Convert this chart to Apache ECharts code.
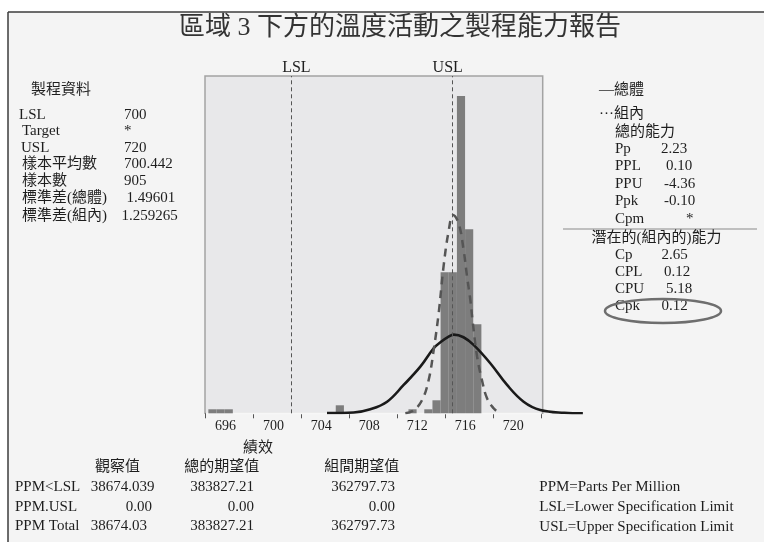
<!DOCTYPE html>
<html>
<head>
<meta charset="utf-8">
<script src="https://cdn.jsdelivr.net/npm/echarts@6/dist/echarts.min.js"></script>
<style>
  html, body { margin: 0; padding: 0; background: #ffffff; }
  #chart { width: 764px; height: 542px; }
</style>
</head>
<body>
<div id="chart"></div>
<script>
// ---------------- data ----------------
// histogram bins: lower edge of each bin and its frequency
const binStarts = [694.58, 695.26, 695.94, 705.20, 711.26, 712.58, 713.26, 713.94, 714.62, 715.30, 715.98, 716.66];
const binCounts = [4, 4, 4, 8, 4, 4, 13, 141, 141, 317, 184, 89];
const binWidth = 0.68;

// fitted density, overall (solid)
const overallCurveX = [704.47, 706.69, 708.08, 709.48, 710.86, 712.25, 713.36, 713.92, 714.61, 715.03, 715.85, 716.69, 718.08, 719.48, 720.86, 722.25, 724.25, 725.80];
const overallCurveY = [0.3, 0.8, 4, 11.6, 28.3, 46.6, 65, 71, 76.6, 78.6, 76, 68.3, 50, 28.3, 11.6, 3.3, 0.5, 0];

// fitted density, within (dashed)
const withinCurveX = [711.00, 711.69, 712.39, 712.94, 713.36, 713.78, 714.19, 714.61, 714.98, 715.44, 715.86, 716.14, 716.42, 716.61, 716.98, 717.39, 717.81, 718.36, 718.78];
const withinCurveY = [0, 3, 13, 33, 63, 100, 147, 182, 198, 190, 163, 137, 113, 92, 57, 33, 15, 5, 0.6];

// specification reference lines
const specNames = ['LSL', 'USL'];
const specPositions = [701.5, 714.95];

// x axis ticks and labels
const axisTickValues = [694.3, 698.3, 702.3, 706.3, 710.3, 714.3, 718.3, 722.3];
const axisLabelValues = [696, 700, 704, 708, 712, 716, 720];

// text panels
const titleText = '區域 3 下方的溫度活動之製程能力報告';
const axisTitle = '績效';
const processHeading = '製程資料';
const processLabels = ['LSL', 'Target', 'USL', '樣本平均數', '樣本數', '標準差(總體)', '標準差(組內)'];
const processValues = ['700', '*', '720', '700.442', '905', '1.49601', '1.259265'];
const legendItems = ['—總體', '···組內'];
const overallHeading = '總的能力';
const overallLabels = ['Pp', 'PPL', 'PPU', 'Ppk', 'Cpm'];
const overallValues = ['2.23', '0.10', '-4.36', '-0.10', '*'];
const withinHeading = '潛在的(組內的)能力';
const withinLabels = ['Cp', 'CPL', 'CPU', 'Cpk'];
const withinValues = ['2.65', '0.12', '5.18', '0.12'];
const ppmHeaders = ['觀察值', '總的期望值', '組間期望值'];
const ppmRows = ['PPM<LSL', 'PPM.USL', 'PPM Total'];
const ppmObserved = ['38674.039', '0.00', '38674.03'];
const ppmExpOverall = ['383827.21', '0.00', '383827.21'];
const ppmExpWithin = ['362797.73', '0.00', '362797.73'];
const footnotes = ['PPM=Parts Per Million', 'LSL=Lower Specification Limit', 'USL=Upper Specification Limit'];

// ---------------- drawing ----------------
const FONT = "'Liberation Serif', 'Noto Sans CJK TC', serif";
const INK = '#1e1e1e';

function txt(x, y, text, align, size, color) {
  return {
    type: 'text', x: x, y: y, silent: true, z: 10,
    style: {
      text: text,
      font: (size || 15) + 'px ' + FONT,
      fill: color || INK,
      align: align || 'left',
      verticalAlign: 'middle'
    }
  };
}

// plot frame (the cartesian grid runs a little past it so the fitted curve can overhang)
const PLOT = { left: 205, top: 76, width: 337.7, height: 337.3 };

const graphics = [];
// white margin outside the report frame
graphics.push({ type: 'rect', silent: true, z: 0, shape: { x: 0, y: 0, width: 764, height: 12 }, style: { fill: '#ffffff' } });
graphics.push({ type: 'rect', silent: true, z: 0, shape: { x: 0, y: 0, width: 8, height: 542 }, style: { fill: '#ffffff' } });
graphics.push({ type: 'line', silent: true, z: 1, shape: { x1: 8, y1: 12, x2: 764, y2: 12 }, style: { stroke: '#3c3c3c', lineWidth: 1.5 } });
graphics.push({ type: 'line', silent: true, z: 1, shape: { x1: 8, y1: 12, x2: 8, y2: 542 }, style: { stroke: '#3c3c3c', lineWidth: 1.5 } });

// plot background and border
graphics.push({
  type: 'rect', silent: true, z: 0,
  shape: { x: PLOT.left, y: PLOT.top, width: PLOT.width, height: PLOT.height },
  style: { fill: '#e8e8ea', stroke: '#a3a3a3', lineWidth: 1.5 }
});
graphics.push({
  type: 'line', silent: true, z: 1,
  shape: { x1: PLOT.left + 1, y1: PLOT.top + PLOT.height, x2: PLOT.left + PLOT.width - 1, y2: PLOT.top + PLOT.height },
  style: { stroke: '#f7f7f7', lineWidth: 2 }
});

// title
graphics.push(txt(400, 28.5, titleText, 'center', 26, '#333'));

// process data panel
graphics.push(txt(31, 90, processHeading));
const procY = [115, 131.5, 148, 164.5, 181.5, 198.5, 216.5];
const procLabelX = [19, 22, 21, 22, 22, 22, 22];
const procValueX = [124, 124, 124, 124, 124, 126.5, 121.5];
processLabels.forEach(function (l, i) {
  graphics.push(txt(procLabelX[i], procY[i], l));
  graphics.push(txt(procValueX[i], procY[i], processValues[i]));
});

// legend and capability panel
graphics.push(txt(599, 90, legendItems[0]));
graphics.push(txt(599, 114, legendItems[1]));
graphics.push(txt(615, 132, overallHeading));
const ovY = [149, 166.5, 184, 201.5, 219];
const ovValX = [661, 666, 664, 664, 686];
overallLabels.forEach(function (l, i) {
  graphics.push(txt(615, ovY[i], l));
  graphics.push(txt(ovValX[i], ovY[i], overallValues[i]));
});
graphics.push({ type: 'line', silent: true, z: 1, shape: { x1: 563, y1: 229, x2: 757, y2: 229 }, style: { stroke: '#8a8a8a', lineWidth: 1 } });
graphics.push(txt(591.5, 238.5, withinHeading));
const wiY = [255, 272.3, 289, 306];
const wiValX = [661.5, 664, 666, 661.5];
withinLabels.forEach(function (l, i) {
  graphics.push(txt(615, wiY[i], l));
  graphics.push(txt(wiValX[i], wiY[i], withinValues[i]));
});
graphics.push({ type: 'ellipse', silent: true, z: 11, shape: { cx: 663, cy: 311, rx: 58, ry: 12 }, style: { fill: 'none', stroke: '#6e6e6e', lineWidth: 2.5 } });

// axis title
graphics.push(txt(258, 448, axisTitle, 'center'));

// PPM table
const headerX = [117.5, 221.7, 361.7];
ppmHeaders.forEach(function (h, i) { graphics.push(txt(headerX[i], 467, h, 'center')); });
const rowY = [487, 506.7, 526];
ppmRows.forEach(function (r, i) {
  graphics.push(txt(15, rowY[i], r));
  if (i === 1) graphics.push(txt(152, rowY[i], ppmObserved[i], 'right'));
  else graphics.push(txt(90.7, rowY[i], ppmObserved[i]));
  graphics.push(txt(254, rowY[i], ppmExpOverall[i], 'right'));
  graphics.push(txt(395, rowY[i], ppmExpWithin[i], 'right'));
});

// footnotes
const footY = [486.7, 506.7, 526.7];
footnotes.forEach(function (f, i) { graphics.push(txt(539.3, footY[i], f)); });

const chart = echarts.init(document.getElementById('chart'), null, { renderer: 'canvas' });

// x scale: 694.3 at the frame's left edge, about 12 px per unit
const X_MIN = 694.3;
const PX_PER_UNIT = 11.996;
const GRID_WIDTH = 385;

chart.setOption({
  backgroundColor: '#f4f4f4',
  animation: false,
  grid: {
    left: PLOT.left, top: PLOT.top, width: GRID_WIDTH, height: PLOT.height,
    show: false
  },
  xAxis: {
    type: 'value',
    min: X_MIN,
    max: X_MIN + GRID_WIDTH / PX_PER_UNIT,
    splitLine: { show: false },
    axisLine: { show: false },
    axisTick: { show: true, customValues: axisTickValues, length: 5, lineStyle: { color: '#555', width: 1 } },
    axisLabel: { customValues: axisLabelValues, fontSize: 14, fontFamily: FONT, color: INK, margin: 6 }
  },
  yAxis: {
    type: 'value', min: 0, max: 337, show: false
  },
  series: [
    {
      type: 'custom',
      z: 2,
      silent: true,
      data: binStarts.map(function (s, i) { return [s, binCounts[i]]; }),
      renderItem: function (params, api) {
        const x0 = api.value(0);
        const h = api.value(1);
        const pTop = api.coord([x0, h]);
        const pBot = api.coord([x0 + binWidth, 0]);
        return {
          type: 'rect',
          shape: { x: pTop[0], y: pTop[1], width: pBot[0] - pTop[0], height: pBot[1] - pTop[1] },
          style: { fill: '#7d7d7d' }
        };
      }
    },
    {
      type: 'line',
      z: 3,
      silent: true,
      smooth: 0.4,
      showSymbol: false,
      data: overallCurveX.map(function (x, i) { return [x, overallCurveY[i]]; }),
      lineStyle: { color: '#1a1a1a', width: 2.6 }
    },
    {
      type: 'line',
      z: 4,
      silent: true,
      smooth: 0.4,
      showSymbol: false,
      data: withinCurveX.map(function (x, i) { return [x, withinCurveY[i]]; }),
      lineStyle: { color: '#555555', width: 2.5, type: [8, 6] },
      markLine: {
        silent: true,
        symbol: 'none',
        animation: false,
        lineStyle: { color: '#555', type: [4, 3], width: 1 },
        label: { show: true, position: 'end', formatter: '{b}', fontSize: 16, fontFamily: FONT, color: INK, distance: 0 },
        data: specNames.map(function (n, i) {
          return { name: n, xAxis: specPositions[i], label: { offset: [i === 0 ? 5 : -5, 0] } };
        })
      }
    }
  ],
  graphic: graphics
});
</script>
</body>
</html>
